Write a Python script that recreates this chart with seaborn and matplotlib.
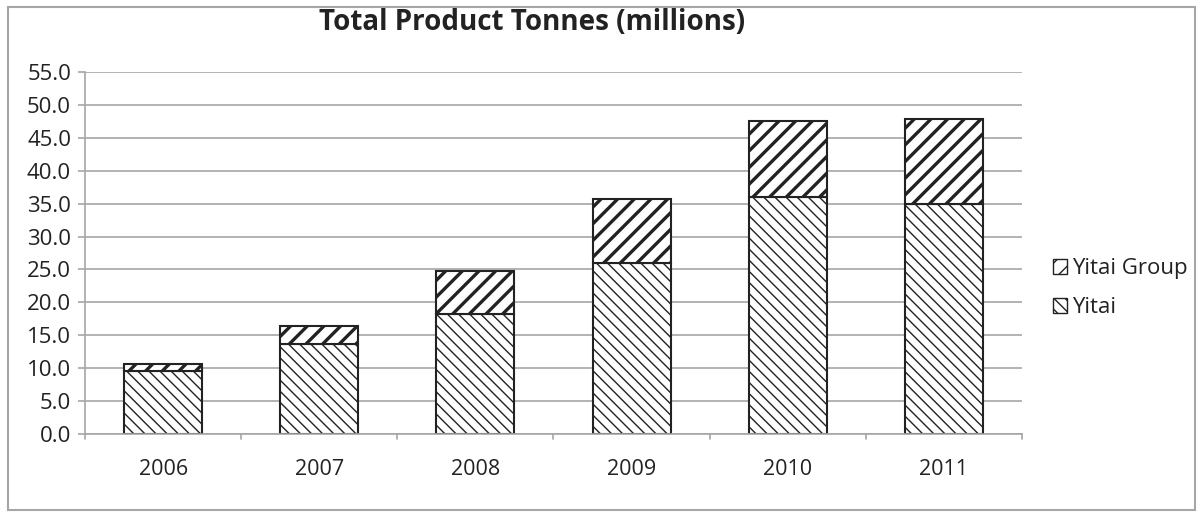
import matplotlib
matplotlib.use("Agg")
import matplotlib.pyplot as plt
import seaborn as sns
import pandas as pd
from matplotlib.patches import Rectangle, Patch

years = ["2006", "2007", "2008", "2009", "2010", "2011"]
yitai = [9.6, 13.6, 18.2, 26.0, 36.0, 35.0]
yitai_group = [1.1, 2.8, 6.6, 9.7, 11.5, 12.8]
yticks = [0, 5, 10, 15, 20, 25, 30, 35, 40, 45, 50, 55]

sns.set_theme(style="white")
plt.rcParams['font.family'] = ['Open Sans', 'DejaVu Sans']
plt.rcParams['hatch.color'] = '#222222'

df = pd.DataFrame({"year": years, "yitai": yitai, "group": yitai_group})

fig = plt.figure(figsize=(11.98, 5.12), dpi=100)
ax = fig.add_axes([85/1198, 1-434/512, (1022-85)/1198, (434-72)/512])

for y in yticks:
    ax.axhline(y, color='#a6a6a6', lw=1.2, zorder=0)

plt.rcParams['hatch.linewidth'] = 1.0
sns.barplot(data=df, x="year", y="yitai", ax=ax, color='white', width=0.5,
            edgecolor='#222222', linewidth=1.5, hatch='\\\\\\', zorder=2)
plt.rcParams['hatch.linewidth'] = 2.4
n0 = len(ax.patches)
sns.barplot(data=df, x="year", y="group", ax=ax, color='white', width=0.5,
            edgecolor='#222222', linewidth=1.5, hatch='//', bottom=yitai, zorder=2)
for p in ax.patches[:n0]:
    if hasattr(p, 'set_hatch_linewidth'):
        p.set_hatch_linewidth(1.0)
for p in ax.patches[n0:]:
    if hasattr(p, 'set_hatch_linewidth'):
        p.set_hatch_linewidth(2.4)

ax.set_ylim(0, 55)
ax.set_xlim(-0.5, 5.5)
ax.set_yticks(yticks)
ax.set_yticklabels([f"{v:.1f}" for v in yticks], fontsize=16, color='#222222')
ax.set_xticks(range(len(years)))
ax.set_xticklabels(years, fontsize=15.5, color='#222222')
ax.tick_params(axis='x', length=0, pad=18)
ax.tick_params(axis='y', length=5, color='#a6a6a6', width=1.2, pad=5, direction='out', left=True)
for xb in [i - 0.5 for i in range(len(years) + 1)]:
    ax.plot([xb, xb], [0, -0.8], color='#a6a6a6', lw=1.2, clip_on=False, zorder=1)
ax.set_xlabel("")
ax.set_ylabel("")
for s in ['top', 'right']:
    ax.spines[s].set_visible(False)
for s in ['left', 'bottom']:
    ax.spines[s].set_color('#a6a6a6')
    ax.spines[s].set_linewidth(1.2)

plt.rcParams['hatch.linewidth'] = 2.0
h1 = Patch(facecolor='white', edgecolor='#222222', hatch='//', label='Yitai Group')
plt.rcParams['hatch.linewidth'] = 1.0
h2 = Patch(facecolor='white', edgecolor='#222222', hatch='\\\\\\', label='Yitai')
leg = fig.legend(handles=[h1, h2], loc='center left', bbox_to_anchor=(1053/1198, 1-288/512),
                 frameon=False, fontsize=16, handlelength=0.65, handleheight=0.65,
                 handletextpad=0.2, labelspacing=0.8, borderpad=0, borderaxespad=0)
for t in leg.get_texts():
    t.set_color('#222222')

fig.text(532/1198, 1-22/512, "Total Product Tonnes (millions)", ha='center', va='center',
         fontsize=20, fontweight='bold', color='#222222')

fig.patches.append(Rectangle((8/1198, 2/512), 1187/1198, 503/512, transform=fig.transFigure,
                             fill=False, edgecolor='#a6a6a6', lw=1.5))

fig.savefig("out.png", dpi=100)
